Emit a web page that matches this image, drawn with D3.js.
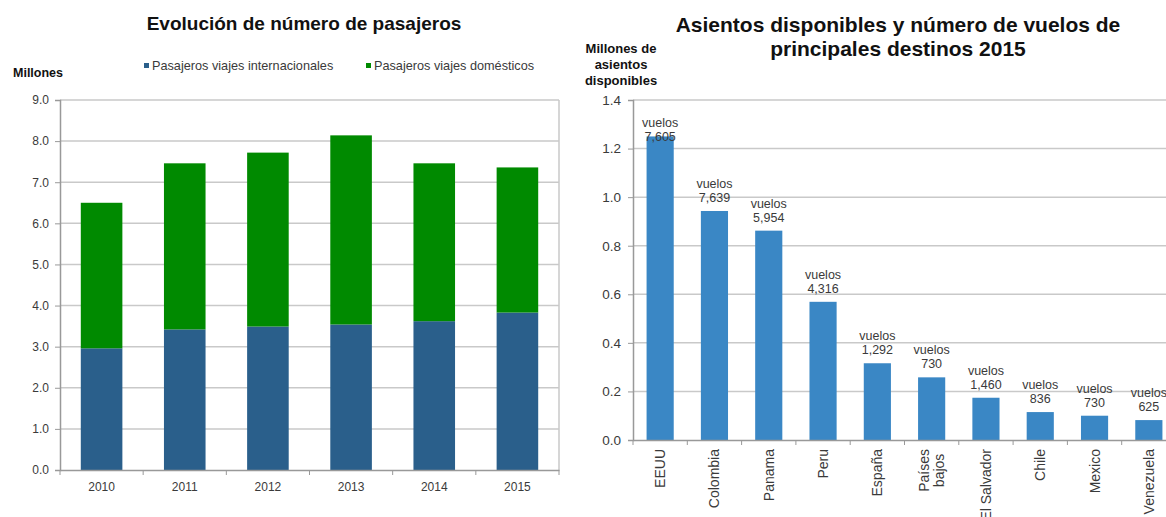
<!DOCTYPE html>
<html>
<head>
<meta charset="utf-8">
<script src="https://cdn.jsdelivr.net/npm/d3@7"></script>
<style>
  body { margin: 0; background: #fff; }
  svg { display: block; font-family: "Liberation Sans", Arial, sans-serif; }
</style>
</head>
<body>
<svg id="chart" width="1166" height="517"></svg>
<script>
// Datos del grafico izquierdo (millones de pasajeros)
const anios = ["2010", "2011", "2012", "2013", "2014", "2015"];
const internacionales = [2.96, 3.42, 3.49, 3.54, 3.62, 3.83];
const domesticos = [3.54, 4.04, 4.23, 4.60, 3.84, 3.53];
const ticksPasajeros = [0, 1, 2, 3, 4, 5, 6, 7, 8, 9];

// Datos del grafico derecho (millones de asientos y vuelos)
const destinos = ["EEUU", "Colombia", "Panama", "Peru", "España", "Países bajos", "El Salvador", "Chile", "Mexico", "Venezuela"];
const asientos = [1.25, 0.943, 0.862, 0.569, 0.316, 0.258, 0.174, 0.115, 0.10, 0.082];
const vuelos = ["7,605", "7,639", "5,954", "4,316", "1,292", "730", "1,460", "836", "730", "625"];
const ticksAsientos = [0, 0.2, 0.4, 0.6, 0.8, 1.0, 1.2, 1.4];

const colorIntl = "#2a5f8b";
const colorDom = "#008a00";
const colorBarra = "#3a87c5";
const gridColor = "#c9c9c9";
const textColor = "#3a3a3a";

const svg = d3.select("#chart");

// ---------- Grafico izquierdo ----------
const m1 = { left: 60, right: 559, top: 100, bottom: 470 };
const x1 = d3.scaleBand().domain(anios).range([m1.left, m1.right]).paddingInner(0.5).paddingOuter(0.25);
const y1 = d3.scaleLinear().domain([0, 9]).range([m1.bottom, m1.top]);

const g1 = svg.append("g");

g1.append("text")
  .attr("x", 304).attr("y", 30)
  .attr("text-anchor", "middle")
  .attr("font-size", 19).attr("font-weight", "bold").attr("fill", "#111")
  .text("Evolución de número de pasajeros");

g1.append("text")
  .attr("x", 13).attr("y", 77)
  .attr("font-size", 12.5).attr("font-weight", "bold").attr("fill", "#111")
  .text("Millones");

// leyenda
const leyenda = [
  { nombre: "Pasajeros viajes internacionales", color: colorIntl, x: 144 },
  { nombre: "Pasajeros viajes domésticos", color: colorDom, x: 366 }
];
leyenda.forEach(l => {
  g1.append("rect").attr("x", l.x).attr("y", 63).attr("width", 5).attr("height", 5).attr("fill", l.color);
  g1.append("text").attr("x", l.x + 8).attr("y", 69.5)
    .attr("font-size", 12.7).attr("fill", textColor).text(l.nombre);
});

// rejilla
g1.append("g")
  .selectAll("line")
  .data(ticksPasajeros.slice(1))
  .join("line")
  .attr("x1", m1.left).attr("x2", m1.right)
  .attr("y1", d => y1(d)).attr("y2", d => y1(d))
  .attr("stroke", gridColor).attr("stroke-width", 1.5);

g1.append("line")
  .attr("x1", m1.right).attr("x2", m1.right)
  .attr("y1", m1.top).attr("y2", m1.bottom)
  .attr("stroke", gridColor).attr("stroke-width", 1.5);

// barras apiladas
const pila = d3.stack().keys(["intl", "dom"])(anios.map((a, i) => ({ anio: a, intl: internacionales[i], dom: domesticos[i] })));
const colores1 = { intl: colorIntl, dom: colorDom };
g1.append("g")
  .selectAll("g")
  .data(pila)
  .join("g")
  .attr("fill", d => colores1[d.key])
  .selectAll("rect")
  .data(d => d)
  .join("rect")
  .attr("x", d => x1(d.data.anio))
  .attr("y", d => y1(d[1]))
  .attr("width", x1.bandwidth())
  .attr("height", d => y1(d[0]) - y1(d[1]));

// eje y
const ejeY1 = g1.append("g")
  .attr("transform", `translate(${m1.left},0)`)
  .call(d3.axisLeft(y1).tickValues(ticksPasajeros).tickFormat(d3.format(".1f")).tickSize(5).tickPadding(6));
ejeY1.select(".domain").attr("stroke", "#999").attr("stroke-width", 1.5);
ejeY1.selectAll(".tick line").attr("stroke", "#999");
ejeY1.selectAll("text").attr("font-size", 12).attr("fill", textColor).attr("font-family", null);

// eje x
const ejeX1 = g1.append("g")
  .attr("transform", `translate(0,${m1.bottom})`)
  .call(d3.axisBottom(x1).tickSize(0).tickPadding(12));
ejeX1.select(".domain").attr("stroke", "#999").attr("stroke-width", 1.5);
ejeX1.selectAll("text").attr("font-size", 12).attr("fill", textColor).attr("font-family", null);
ejeX1.append("g")
  .selectAll("line")
  .data(d3.range(anios.length + 1))
  .join("line")
  .attr("x1", i => m1.left + i * x1.step()).attr("x2", i => m1.left + i * x1.step())
  .attr("y1", 0).attr("y2", 5)
  .attr("stroke", "#999");

// ---------- Grafico derecho ----------
const m2 = { left: 633, right: 1176, top: 100, bottom: 440 };
const x2 = d3.scaleBand().domain(destinos).range([m2.left, m2.right]).paddingInner(0.5).paddingOuter(0.25);
const y2 = d3.scaleLinear().domain([0, 1.4]).range([m2.bottom, m2.top]);

const g2 = svg.append("g");

g2.append("text")
  .attr("text-anchor", "middle")
  .attr("font-size", 21).attr("font-weight", "bold").attr("fill", "#111")
  .selectAll("tspan")
  .data(["Asientos disponibles y número de vuelos de", "principales destinos 2015"])
  .join("tspan")
  .attr("x", 898).attr("y", (d, i) => 32 + i * 23.5)
  .text(d => d);

g2.append("text")
  .attr("text-anchor", "middle")
  .attr("font-size", 13).attr("font-weight", "bold").attr("fill", "#111")
  .selectAll("tspan")
  .data(["Millones de", "asientos", "disponibles"])
  .join("tspan")
  .attr("x", 621).attr("y", (d, i) => 53 + i * 16)
  .text(d => d);

g2.append("g")
  .selectAll("line")
  .data(ticksAsientos.slice(1))
  .join("line")
  .attr("x1", m2.left).attr("x2", 1166)
  .attr("y1", d => y2(d)).attr("y2", d => y2(d))
  .attr("stroke", gridColor).attr("stroke-width", 1.5);

g2.append("g")
  .selectAll("rect")
  .data(destinos)
  .join("rect")
  .attr("x", d => x2(d))
  .attr("y", (d, i) => y2(asientos[i]))
  .attr("width", x2.bandwidth())
  .attr("height", (d, i) => y2(0) - y2(asientos[i]))
  .attr("fill", colorBarra);

// etiquetas de vuelos
const etiquetas = g2.append("g")
  .selectAll("text")
  .data(destinos)
  .join("text")
  .attr("text-anchor", "middle")
  .attr("font-size", 12.5).attr("fill", textColor);
etiquetas.each(function (d, i) {
  const cx = x2(d) + x2.bandwidth() / 2;
  const base = Math.max(y2(asientos[i]) - 9, 141);
  d3.select(this).append("tspan").attr("x", cx).attr("y", base - 14).text("vuelos");
  d3.select(this).append("tspan").attr("x", cx).attr("y", base).text(vuelos[i]);
});

// eje y
const ejeY2 = g2.append("g")
  .attr("transform", `translate(${m2.left},0)`)
  .call(d3.axisLeft(y2).tickValues(ticksAsientos).tickFormat(d3.format(".1f")).tickSize(5).tickPadding(7));
ejeY2.select(".domain").attr("stroke", "#999").attr("stroke-width", 1.5);
ejeY2.selectAll(".tick line").attr("stroke", "#999");
ejeY2.selectAll("text").attr("font-size", 13.5).attr("fill", textColor).attr("font-family", null);

// eje x
const ejeX2 = g2.append("g")
  .attr("transform", `translate(0,${m2.bottom})`)
  .call(d3.axisBottom(x2).tickSize(0).tickFormat(() => ""));
ejeX2.select(".domain").attr("stroke", "#999").attr("stroke-width", 1.5);
ejeX2.append("g")
  .selectAll("line")
  .data(d3.range(destinos.length))
  .join("line")
  .attr("x1", i => m2.left + i * x2.step()).attr("x2", i => m2.left + i * x2.step())
  .attr("y1", 0).attr("y2", 5)
  .attr("stroke", "#999");

// nombres rotados, partidos en lineas
const nombres = ejeX2.append("g")
  .selectAll("text")
  .data(destinos)
  .join("text")
  .attr("font-size", 14).attr("fill", textColor)
  .attr("text-anchor", "middle");
nombres.each(function (d) {
  const lineas = d === "Países bajos" ? ["Países", "bajos"] : [d];
  const sel = d3.select(this);
  lineas.forEach((t, k) => sel.append("tspan").attr("x", 0).attr("dy", k === 0 ? 0 : 15).text(t));
  const largo = d3.max(sel.selectAll("tspan").nodes(), n => n.getComputedTextLength());
  const cx = x2(d) + x2.bandwidth() / 2 + 5 - (lineas.length - 1) * 7.5;
  sel.attr("transform", `translate(${cx},${9 + largo / 2}) rotate(-90)`);
});
</script>
</body>
</html>
